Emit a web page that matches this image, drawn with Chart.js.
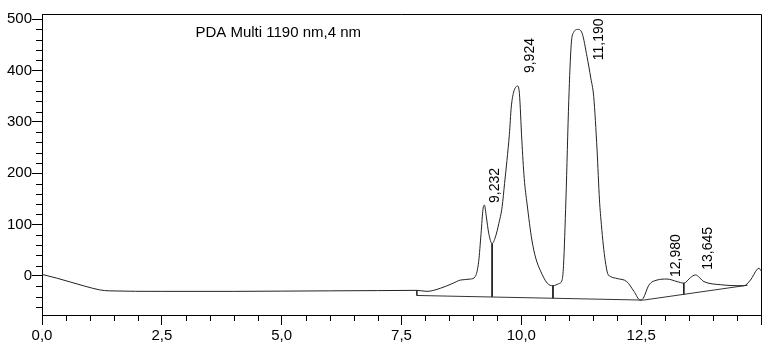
<!DOCTYPE html>
<html lang="en">
<head>
<meta charset="utf-8" />
<title>PDA Multi 1190 nm</title>
<style>
  html, body { margin: 0; padding: 0; background: #fff; }
  #wrap { width: 774px; height: 353px; }
</style>
</head>
<body>
<div id="wrap"><canvas id="chrom"></canvas></div>
<script src="https://cdn.jsdelivr.net/npm/chart.js"></script>
<script>
// retention time (min) and signal (mAU)
var timeVals = [0.00, 0.30, 0.60, 0.90, 1.20, 1.40, 2.50, 4.00, 5.00, 6.00, 7.00, 7.82,
  8.03, 8.31, 8.58, 8.73, 8.94, 9.04, 9.11, 9.16, 9.20, 9.23, 9.27, 9.32, 9.39,
  9.46, 9.53, 9.60, 9.65, 9.70, 9.75, 9.79, 9.84, 9.88, 9.92, 9.96, 10.01, 10.06,
  10.12, 10.22, 10.30, 10.40, 10.54, 10.66, 10.78, 10.85, 10.88, 10.93, 10.99,
  11.04, 11.09, 11.18, 11.27, 11.37, 11.45, 11.51, 11.58, 11.63, 11.67, 11.71,
  11.75, 11.80, 11.86, 12.00, 12.20, 12.35, 12.48, 12.54, 12.66, 12.83, 13.04,
  13.25, 13.39, 13.53, 13.63, 13.81, 14.15, 14.64, 14.78, 14.92, 14.96, 15.00];
var signalVals = [3, -4, -12, -20, -27, -29, -30, -30, -29.5, -29, -28.5, -28,
  -30, -24, -14, -8, -6, -1, 28, 83, 130, 138, 115, 83, 63,
  76, 102, 135, 180, 225, 275, 329, 358, 367, 370, 355, 265, 190,
  140, 70, 35, 10, -14, -19, -15, -8, 20, 148, 342,
  450, 474, 480, 472, 427, 385, 349, 245, 148, 100, 60,
  30, 5, -1, -5, -11, -30, -47, -44, -18, -8, -6,
  -11, -14, -3, 2, -11, -17, -19, -8, 13, 15, 10];

// integration baselines
var base1X = [7.82, 7.82, 12.55];
var base1Y = [-28, -38, -47];
var base2X = [12.55, 14.72];
var base2Y = [-47, -18];

// peak separation drop lines
var dropX = [9.39, 10.66, 13.39];
var dropTop = [63, -19, -14];
var dropBottom = [-41, -43.4, -36];

// retention time labels
var peakLabels = ["9,232", "9,924", "11,190", "12,980", "13,645"];
var peakLabelX = [9.46, 10.18, 11.63, 13.24, 13.89];
var peakLabelY = [142, 395, 420, -2, 12];

var channelName = "PDA Multi 1190 nm,4 nm";

function pts(xs, ys) {
  return xs.map(function (x, i) { return { x: x, y: ys[i] }; });
}

var datasets = [
  {
    data: pts(timeVals, signalVals),
    borderColor: "#222",
    borderWidth: 1,
    pointRadius: 0,
    cubicInterpolationMode: "monotone",
  },
  { data: pts(base1X, base1Y), borderColor: "#333", borderWidth: 1, pointRadius: 0, tension: 0 },
  { data: pts(base2X, base2Y), borderColor: "#333", borderWidth: 1, pointRadius: 0, tension: 0 },
];
dropX.forEach(function (x, i) {
  datasets.push({
    data: [{ x: x, y: dropTop[i] }, { x: x, y: dropBottom[i] }],
    borderColor: "#111",
    borderWidth: 0.9,
    pointRadius: 0,
  });
});

var FONT = "'Liberation Sans', Arial, sans-serif";

// frame, minor ticks, channel name and peak labels
var decorations = {
  id: "decorations",
  afterDraw: function (chart) {
    var ctx = chart.ctx;
    var a = chart.chartArea;
    var xs = chart.scales.x;
    var ys = chart.scales.y;
    ctx.save();
    ctx.strokeStyle = "#000";
    ctx.lineWidth = 1;
    ctx.beginPath();
    ctx.moveTo(a.left, a.top + 0.5);
    ctx.lineTo(a.right + 0.5, a.top + 0.5);
    ctx.lineTo(a.right + 0.5, a.bottom);
    // minor ticks
    for (var v = -60; v <= 500; v += 20) {
      if (v % 100 === 0) continue;
      var py = Math.round(ys.getPixelForValue(v)) + 0.5;
      ctx.moveTo(a.left - 6, py);
      ctx.lineTo(a.left, py);
    }
    for (var t = 0.5; t < 15; t += 0.5) {
      if (Math.abs(t / 2.5 - Math.round(t / 2.5)) < 1e-6) continue;
      var px = Math.round(xs.getPixelForValue(t)) + 0.5;
      ctx.moveTo(px, a.bottom);
      ctx.lineTo(px, a.bottom + 6);
    }
    ctx.stroke();

    ctx.fillStyle = "#000";
    ctx.font = "15px " + FONT;
    ctx.textBaseline = "alphabetic";
    ctx.textAlign = "left";
    ctx.fillText(channelName, xs.getPixelForValue(3.2), ys.getPixelForValue(465));

    ctx.font = "14px " + FONT;
    ctx.textBaseline = "middle";
    peakLabels.forEach(function (lbl, i) {
      ctx.save();
      ctx.translate(xs.getPixelForValue(peakLabelX[i]), ys.getPixelForValue(peakLabelY[i]));
      ctx.rotate(-Math.PI / 2);
      ctx.fillText(lbl, 0, 0);
      ctx.restore();
    });
    ctx.restore();
  },
};

new Chart(document.getElementById("chrom"), {
  type: "line",
  data: { datasets: datasets },
  plugins: [decorations],
  options: {
    responsive: true,
    maintainAspectRatio: false,
    animation: false,
    layout: { padding: { left: 0, top: 14, right: 13, bottom: 0 } },
    plugins: { legend: { display: false }, tooltip: { enabled: false } },
    scales: {
      x: {
        type: "linear",
        min: 0,
        max: 15,
        afterFit: function (s) { s.height = 38; },
        border: { color: "#000", width: 1 },
        grid: { drawOnChartArea: false, tickLength: 10, color: "#000" },
        ticks: {
          stepSize: 2.5,
          maxRotation: 0,
          padding: 2,
          color: "#000",
          font: { family: FONT, size: 15 },
          callback: function (v) {
            if (v >= 15) return "";
            return v.toFixed(1).replace(".", ",");
          },
        },
      },
      y: {
        min: -76,
        max: 510,
        afterFit: function (s) { s.width = 42; },
        border: { color: "#000", width: 1 },
        grid: { drawOnChartArea: false, tickLength: 10, color: "#000" },
        ticks: {
          stepSize: 100,
          includeBounds: false,
          padding: 0,
          color: "#000",
          font: { family: FONT, size: 15 },
        },
      },
    },
  },
});
</script>
</body>
</html>
